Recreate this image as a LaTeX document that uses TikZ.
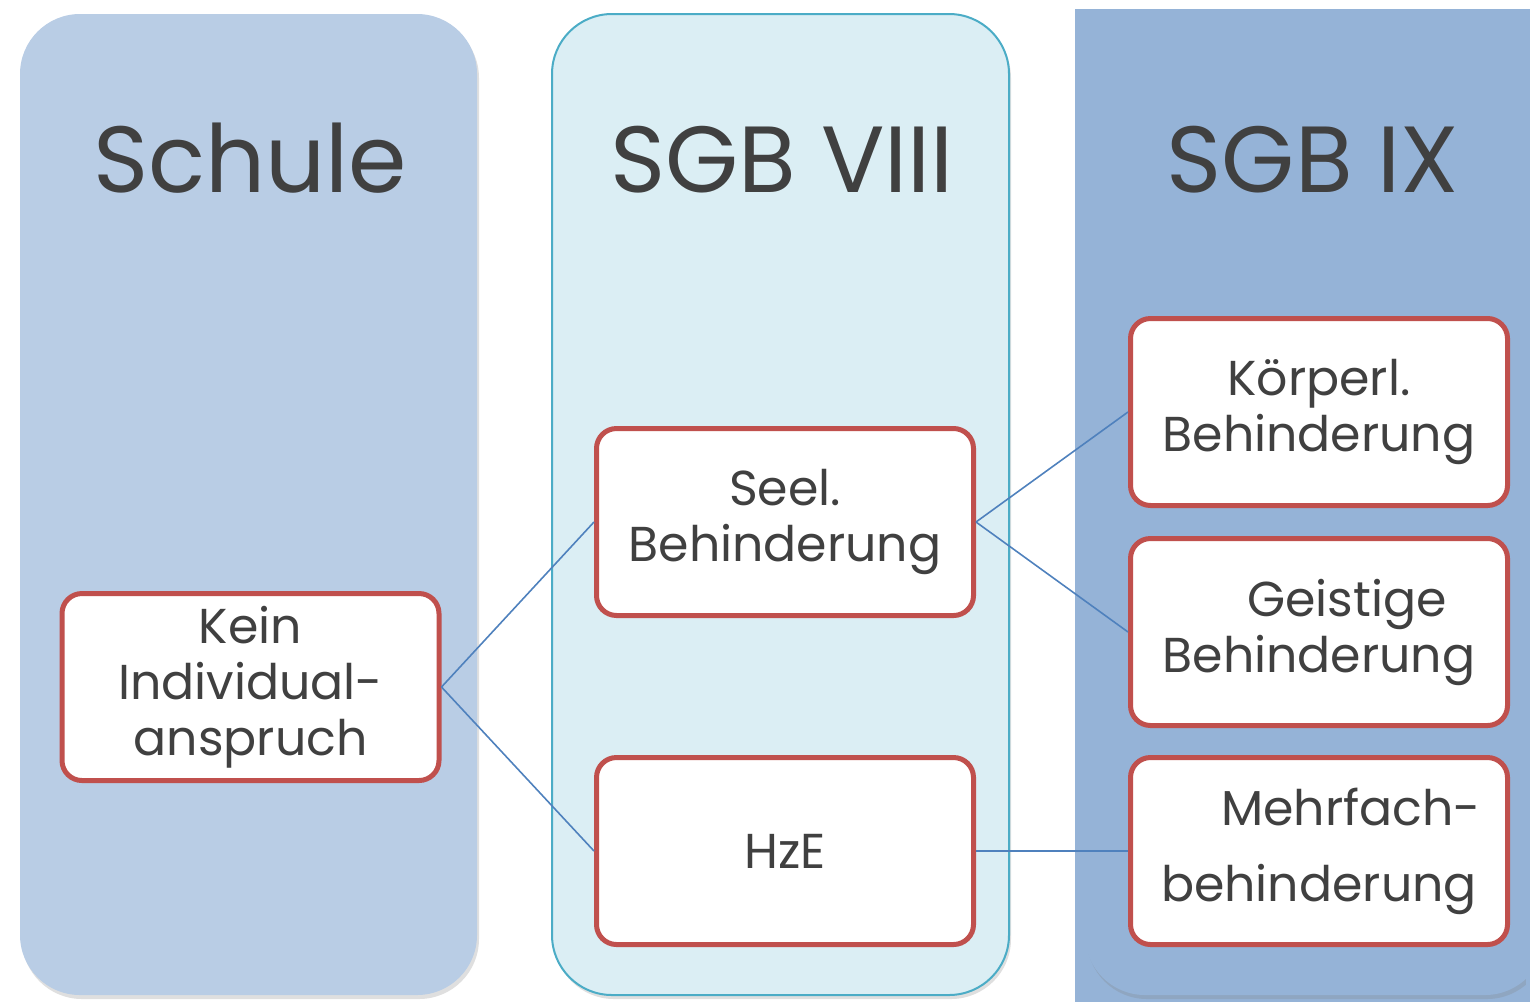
\documentclass[tikz,border=0pt]{standalone}
\usepackage{fontspec}
\setmainfont{Poppins}
\usetikzlibrary{shadows}
\definecolor{colA}{HTML}{B9CDE5}
\definecolor{colB}{HTML}{DBEEF4}
\definecolor{colBb}{HTML}{4BACC6}
\definecolor{colC}{HTML}{95B3D7}
\definecolor{boxred}{HTML}{C0504D}
\definecolor{lineblue}{HTML}{4F81BD}
\definecolor{txt}{HTML}{404040}
\tikzset{
  column/.style={rounded corners=30pt, minimum width=228.5pt, minimum height=490.5pt, inner sep=0pt,
    drop shadow={opacity=0.25, shadow xshift=1pt, shadow yshift=-2pt}},
  title/.style={text=txt, font=\fontsize{47}{52}\selectfont, inner sep=0pt, anchor=base},
  itembox/.style={draw=boxred, line width=2.5pt, fill=white, rounded corners=10pt,
    minimum width=188.5pt, minimum height=93.5pt, inner sep=0pt, text=txt,
    align=center, font=\fontsize{24.5}{28}\selectfont},
  link/.style={draw=lineblue, line width=0.8pt}
}
\begin{document}
\begin{tikzpicture}[x=0.5pt,y=-0.5pt]
\useasboundingbox (0,0) rectangle (1530,1002);
% columns
\node[column, fill=colA] (c1) at (248.5,504.5) {};
\node[column, fill=colB, draw=colBb, line width=1pt] (c2) at (780.5,504.5) {};
\fill[colC] (1075,9) rectangle (1530,1002);
\node[column, fill=colC, minimum width=230pt] (c3) at (1315,504.5) {};
\fill[colC] (1526,9) rectangle (1530,1002);
% titles
\node[title] (t1) at (250,192) {Schule};
\node[title] (t2) at (782,192) {SGB VIII};
\node[title] (t3) at (1313,192) {SGB IX};
% boxes
\node[itembox] (kein) at (250.5,687) {Kein\\Individual-\\anspruch};
\node[itembox] (seel) at (785,522) {Seel.\\Behinderung};
\node[itembox] (hze) at (785,851) {HzE};
\node[itembox] (koerp) at (1319,412) {Körperl.\\Behinderung};
\node[itembox] (geist) at (1319,632) {\hspace*{28pt}Geistige\\Behinderung};
\node[itembox, font=\fontsize{24.5}{38}\selectfont] (mehr) at (1319,851) {\hspace*{32pt}Mehrfach-\\behinderung};
% connectors
\draw[link] (kein.east) -- (seel.west);
\draw[link] (kein.east) -- (hze.west);
\draw[link] (seel.east) -- (koerp.west);
\draw[link] (seel.east) -- (geist.west);
\draw[link] (hze.east) -- (mehr.west);
\end{tikzpicture}
\end{document}
